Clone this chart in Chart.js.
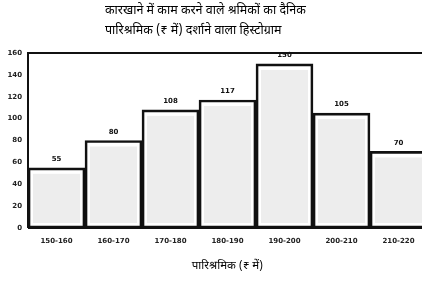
<!DOCTYPE html>
<html>
<head>
<meta charset="utf-8">
<script src="https://cdn.jsdelivr.net/npm/chart.js@4"></script>
<style>
  html, body { margin: 0; padding: 0; background: #fff; overflow: hidden; }
  #wrap { position: relative; width: 432px; height: 285px; }
  .ttl { position: absolute; left: 105px; font-family: "Noto Sans Devanagari", "Lohit Devanagari", "Noto Sans", sans-serif; font-size: 12.5px; color: #000; white-space: nowrap; }
</style>
</head>
<body>
<div id="wrap">
  <div class="ttl" style="top:3px">कारखाने में काम करने वाले श्रमिकों का दैनिक</div>
  <div class="ttl" style="top:23px">पारिश्रमिक (₹ में) दर्शाने वाला हिस्टोग्राम</div>
  <canvas id="chart" width="432" height="285"></canvas>
</div>
<script>
const wageClasses = ['150-160', '160-170', '170-180', '180-190', '190-200', '200-210', '210-220'];
const workers = [55, 80, 108, 117, 150, 105, 70];
const yTicks = [0, 20, 40, 60, 80, 100, 120, 140, 160];
const xTitle = 'पारिश्रमिक (₹ में)';

// light grey panel inside each bar + value on top + frame lines
const barDecor = {
    id: 'barDecor',
    beforeDatasetsDraw(chart) {
        const ctx = chart.ctx;
        const meta = chart.getDatasetMeta(0);
        ctx.save();
        meta.data.forEach(bar => {
            const half = bar.width / 2;
            ctx.fillStyle = '#ededed';
            ctx.fillRect(bar.x - half + 5, bar.y + 6, bar.width - 10, bar.base - bar.y - 11);
        });
        ctx.restore();
    },
    afterDatasetsDraw(chart) {
        const ctx = chart.ctx;
        const area = chart.chartArea;
        const meta = chart.getDatasetMeta(0);
        ctx.save();
        ctx.fillStyle = '#111';
        ctx.font = 'bold 7px "DejaVu Sans", sans-serif';
        ctx.textAlign = 'center';
        ctx.textBaseline = 'bottom';
        meta.data.forEach((bar, i) => {
            ctx.fillText(String(workers[i]), bar.x, bar.y - 5);
        });
        ctx.strokeStyle = '#111';
        ctx.lineWidth = 2;
        ctx.beginPath();
        ctx.moveTo(area.left, area.bottom);
        ctx.lineTo(area.left, area.top);
        ctx.lineTo(chart.width, area.top);
        ctx.moveTo(area.left, area.bottom);
        ctx.lineTo(chart.width, area.bottom);
        ctx.stroke();
        ctx.restore();
    }
};

new Chart(document.getElementById('chart'), {
    type: 'bar',
    data: {
        labels: wageClasses,
        datasets: [{
            data: workers,
            backgroundColor: 'rgba(0,0,0,0)',
            borderColor: '#111',
            borderWidth: 2,
            borderSkipped: false,
            barPercentage: 1,
            categoryPercentage: 1
        }]
    },
    options: {
        responsive: false,
        animation: false,
        layout: { padding: { top: 53, right: 5, left: 0, bottom: 0 } },
        plugins: { legend: { display: false }, tooltip: { enabled: false } },
        scales: {
            x: {
                grid: { display: false, drawTicks: false },
                border: { display: false },
                ticks: { color: '#222', font: { size: 7, weight: 'bold', family: '"DejaVu Sans", sans-serif' }, padding: 9, maxRotation: 0 },
                title: { display: true, text: xTitle, color: '#000', font: { size: 11.5, family: '"Noto Sans Devanagari", "Lohit Devanagari", sans-serif' }, padding: { top: 0, bottom: 11 } },
                afterFit(scale) { scale.height = 57; }
            },
            y: {
                min: 0,
                max: 160,
                grid: { display: false, drawTicks: false },
                border: { display: false },
                afterBuildTicks(scale) { scale.ticks = yTicks.map(v => ({ value: v })); },
                ticks: { color: '#222', font: { size: 7, weight: 'bold', family: '"DejaVu Sans", sans-serif' }, padding: 6 },
                afterFit(scale) { scale.width = 28; }
            }
        }
    },
    plugins: [barDecor]
});
</script>
</body>
</html>
